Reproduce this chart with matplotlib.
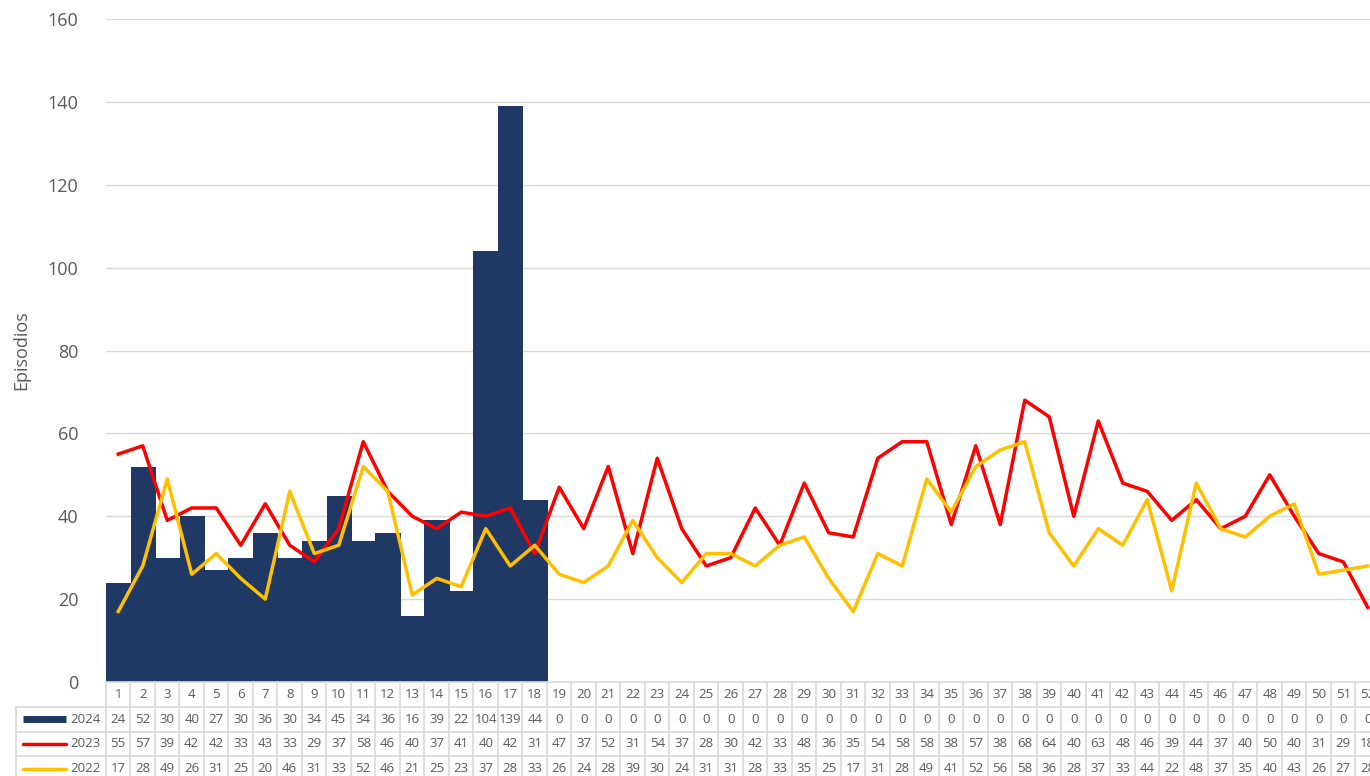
import numpy as np
import matplotlib.pyplot as plt

plt.rcParams['font.family'] = ['Open Sans', 'DejaVu Sans']

weeks = list(range(1, 53))
y2024 = [24, 52, 30, 40, 27, 30, 36, 30, 34, 45, 34, 36, 16, 39, 22, 104, 139, 44] + [0] * 34
y2023 = [55, 57, 39, 42, 42, 33, 43, 33, 29, 37, 58, 46, 40, 37, 41, 40, 42, 31, 47, 37,
         52, 31, 54, 37, 28, 30, 42, 33, 48, 36, 35, 54, 58, 58, 38, 57, 38, 68, 64, 40,
         63, 48, 46, 39, 44, 37, 40, 50, 40, 31, 29, 18]
y2022 = [17, 28, 49, 26, 31, 25, 20, 46, 31, 33, 52, 46, 21, 25, 23, 37, 28, 33, 26, 24,
         28, 39, 30, 24, 31, 31, 28, 33, 35, 25, 17, 31, 28, 49, 41, 52, 56, 58, 36, 28,
         37, 33, 44, 22, 48, 37, 35, 40, 43, 26, 27, 28]

c24 = '#203864'
c23 = '#ff0000'
c22 = '#ffc000'
grid_c = '#d9d9d9'
txt_c = '#595959'

W, H = 1370, 776
fig = plt.figure(figsize=(W / 100, H / 100), dpi=100)

# main chart area (in pixels: x 106..1380, y 19..682)
x0, x1 = 106, 1380
ax = fig.add_axes([x0 / W, (H - 682) / H, (x1 - x0) / W, (682 - 19) / H])
ax.bar(weeks, y2024, width=1.0, color=c24, edgecolor=c24, linewidth=0.6,
       antialiased=False, zorder=2)
ax.plot(weeks, y2023, color=c23, lw=2.5, solid_joinstyle='round', zorder=3)
ax.plot(weeks, y2022, color=c22, lw=2.5, solid_joinstyle='round', zorder=3)
ax.set_xlim(0.5, 52.5)
ax.set_ylim(0, 160)
ax.set_yticks(range(0, 161, 20))
ax.set_xticks([])
ax.grid(axis='y', color=grid_c, lw=1, zorder=0)
for s in ax.spines.values():
    s.set_visible(False)
ax.tick_params(axis='y', length=0, pad=20, labelsize=13, labelcolor=txt_c)
ax.set_ylabel('Episodios', fontsize=13, color=txt_c, labelpad=12)

# data table below chart
unit = (x1 - x0) / 52.0
lab_left = 0.5 - (x0 - 16) / unit
tb_top, tb_bot = 682, 781
axt = fig.add_axes([16 / W, (H - tb_bot) / H, (x1 - 16) / W, (tb_bot - tb_top) / H])
axt.set_xlim(lab_left, 52.5)
axt.set_ylim(4, 0)
axt.axis('off')

lc = dict(color=grid_c, lw=1.2, clip_on=False)
# horizontal lines
axt.plot([0.5, 52.5], [0, 0], **lc)
for r in [1, 2, 3, 4]:
    axt.plot([lab_left, 52.5], [r, r], **lc)
# vertical lines
for k in range(0, 53):
    axt.plot([k + 0.5, k + 0.5], [0, 4], **lc)
axt.plot([lab_left, lab_left], [1, 4], **lc)

tfs = 9.5
for i, w in enumerate(weeks):
    axt.text(w, 0.5, str(w), ha='center', va='center', fontsize=tfs, color=txt_c)
    for r, vals in enumerate([y2024, y2023, y2022], start=1):
        axt.text(w, r + 0.5, str(vals[i]), ha='center', va='center', fontsize=tfs, color=txt_c)

labels = ['2024', '2023', '2022']
colors = [c24, c23, c22]
sw0 = lab_left + (23 - 16) / unit
sw1 = lab_left + (66 - 16) / unit
for r, (lab, c) in enumerate(zip(labels, colors), start=1):
    if lab == '2024':
        axt.plot([sw0, sw1], [r + 0.5, r + 0.5], color=c, lw=5, solid_capstyle='butt')
    else:
        axt.plot([sw0, sw1], [r + 0.5, r + 0.5], color=c, lw=2.5, solid_capstyle='round')
    axt.text(lab_left + (70 - 16) / unit, r + 0.5, lab, ha='left', va='center',
             fontsize=tfs, color=txt_c)

fig.savefig('out.png', dpi=100)
